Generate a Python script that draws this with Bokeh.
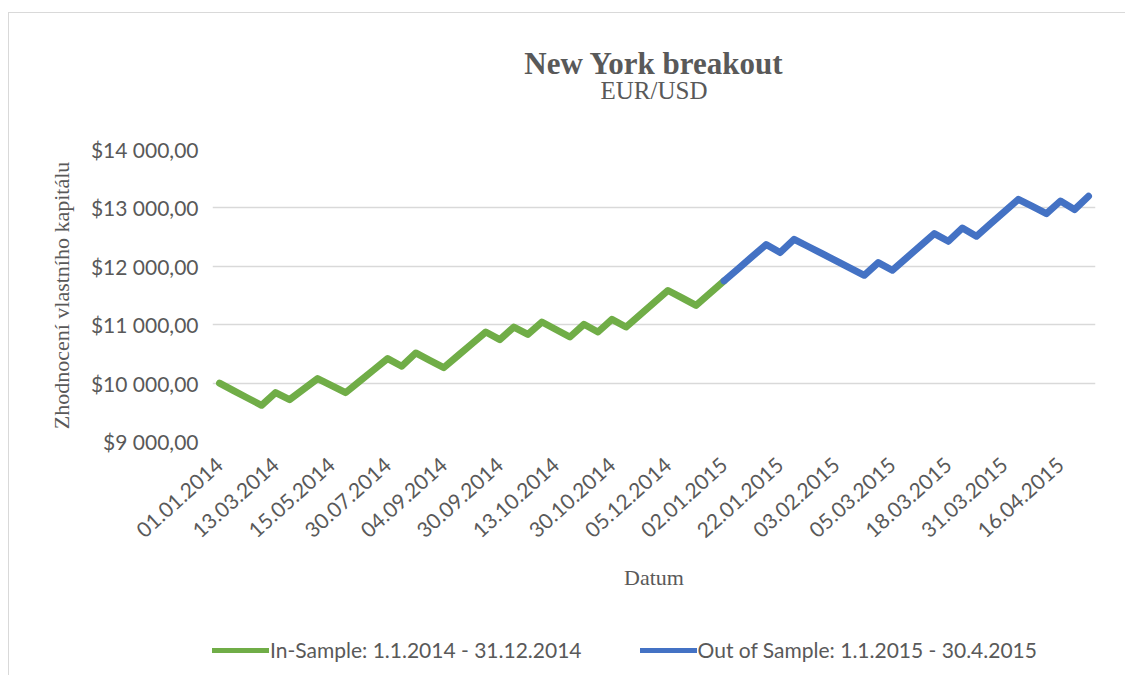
from bokeh.plotting import figure
from bokeh.layouts import column
from bokeh.models import (Range1d, FixedTicker, Legend, LegendItem, Title)
from bokeh.embed import file_html
from bokeh.resources import INLINE

# ---------------- data ----------------
tick_labels = ["01.01.2014", "13.03.2014", "15.05.2014", "30.07.2014",
               "04.09.2014", "30.09.2014", "13.10.2014", "30.10.2014",
               "05.12.2014", "02.01.2015", "22.01.2015", "03.02.2015",
               "05.03.2015", "18.03.2015", "31.03.2015", "16.04.2015"]
LABEL_STEP = 4

in_sample = [10000, 9870, 9745, 9620, 9837, 9717, 9897, 10077, 9957, 9837,
             10031, 10226, 10420, 10288, 10516, 10390, 10265, 10468, 10672,
             10875, 10745, 10960, 10835, 11046, 10918, 10789, 11007, 10875,
             11092, 10960, 11169, 11377, 11586, 11458, 11330, 11540, 11750]
out_sample = [11750, 11957, 12165, 12372, 12235, 12462, 12339, 12216, 12092,
              11969, 11846, 12064, 11932, 12141, 12351, 12560, 12428, 12656,
              12514, 12725, 12936, 13147, 13025, 12902, 13118, 12971, 13199]

y_ticks = [9000, 10000, 11000, 12000, 13000, 14000]

in_label = "In-Sample: 1.1.2014 - 31.12.2014"
out_label = "Out of Sample: 1.1.2015 - 30.4.2015"

in_x = list(range(len(in_sample)))
out_x = list(range(len(in_sample) - 1, len(in_sample) - 1 + len(out_sample)))
n_cat = len(in_sample) + len(out_sample) - 1

GREEN = "#70AD47"
BLUE = "#4472C4"
TXT = "#595959"

def money(v):
    return "$" + f"{v:,.2f}".replace(",", " ").replace(".", ",")

p = figure(frame_width=883, frame_height=292,
           x_range=Range1d(-0.5, n_cat - 0.5),
           y_range=Range1d(y_ticks[0], y_ticks[-1]),
           output_backend="svg", toolbar_location=None, title=None,
           min_border_left=203, min_border_right=30,
           min_border_top=136, min_border_bottom=184)
p.outline_line_color = None
p.background_fill_color = "white"
p.border_fill_color = "white"

# titles (spacer nearest the frame, then subtitle, then main title)
spacer = Title(text=" ", text_font_size="10px", standoff=36)
p.add_layout(spacer, "above")
sub = Title(text="EUR/USD", align="center", text_font="Liberation Serif",
            text_font_size="25px", text_font_style="normal",
            text_color=TXT, standoff=-6)
p.add_layout(sub, "above")
main = Title(text="New York breakout", align="center",
             text_font="Liberation Serif", text_font_size="31px",
             text_font_style="bold", text_color=TXT, standoff=-6)
p.add_layout(main, "above")

# lines
p.line(in_x, in_sample, line_color=GREEN, line_width=7,
       line_cap="round", line_join="round")
p.line(out_x, out_sample, line_color=BLUE, line_width=7,
       line_cap="round", line_join="round")

# axes
xt = [i * LABEL_STEP for i in range(len(tick_labels))]
p.xaxis.ticker = FixedTicker(ticks=xt)
p.xaxis.major_label_overrides = {t: lab for t, lab in zip(xt, tick_labels)}
p.xaxis.major_label_orientation = 0.733
p.xaxis.major_label_text_font = "Lato"
p.xaxis.major_label_text_font_size = "21px"
p.xaxis.major_label_text_color = TXT
p.xaxis.major_label_standoff = 14
p.xaxis.axis_label = "Datum"
p.xaxis.axis_label_text_font = "Liberation Serif"
p.xaxis.axis_label_text_font_size = "22px"
p.xaxis.axis_label_text_font_style = "normal"
p.xaxis.axis_label_text_color = TXT
p.xaxis.axis_label_standoff = 18
p.xaxis.axis_line_color = None
p.xaxis.major_tick_line_color = None
p.xaxis.minor_tick_line_color = None

p.yaxis.ticker = FixedTicker(ticks=y_ticks)
p.yaxis.major_label_overrides = {v: money(v) for v in y_ticks}
p.yaxis.major_label_text_font = "Lato"
p.yaxis.major_label_text_font_size = "21px"
p.yaxis.major_label_text_color = TXT
p.yaxis.major_label_standoff = 8
p.yaxis.axis_label = "Zhodnocení vlastního kapitálu"
p.yaxis.axis_label_text_font = "Liberation Serif"
p.yaxis.axis_label_text_font_size = "22px"
p.yaxis.axis_label_text_font_style = "normal"
p.yaxis.axis_label_text_color = TXT
p.yaxis.axis_label_standoff = 14
p.yaxis.axis_line_color = None
p.yaxis.major_tick_line_color = None
p.yaxis.minor_tick_line_color = None

p.xgrid.grid_line_color = None
p.ygrid.grid_line_color = "#d9d9d9"
p.ygrid.grid_line_width = 1.5
p.ygrid.ticker = FixedTicker(ticks=y_ticks)

# ---------------- legend strip (own small figure under the chart) -------
pl = figure(width=1116, height=50, x_range=Range1d(0, 1), y_range=Range1d(0, 1),
            output_backend="svg", toolbar_location=None,
            min_border_left=0, min_border_right=0,
            min_border_top=0, min_border_bottom=0)
pl.axis.visible = False
pl.grid.visible = False
pl.outline_line_color = None
pl.background_fill_color = "white"
pl.border_fill_color = "white"
# proxies for the legend keys: the series drawn far outside this strip's range
l_in = pl.line(in_x, in_sample, line_color=GREEN, line_width=5, line_cap="round")
l_out = pl.line(out_x, out_sample, line_color=BLUE, line_width=5, line_cap="round")

legend = Legend(items=[LegendItem(label=in_label, renderers=[l_in]),
                       LegendItem(label=out_label, renderers=[l_out])],
                orientation="horizontal", location=(0, 13))
legend.border_line_color = None
legend.background_fill_alpha = 0
legend.label_text_font = "Lato"
legend.label_text_font_size = "21px"
legend.label_text_color = TXT
legend.glyph_width = 57
legend.glyph_height = 20
legend.label_standoff = 1
legend.spacing = 58
legend.padding = 0
legend.margin = 0
pl.add_layout(legend, "center")

page = column(p, pl, spacing=0)
page.styles = {"border-top": "1px solid #d9d9d9",
               "border-left": "1px solid #d9d9d9",
               "margin-left": "8px", "margin-top": "12px"}

open("out.html", "w").write(file_html(page, INLINE))
